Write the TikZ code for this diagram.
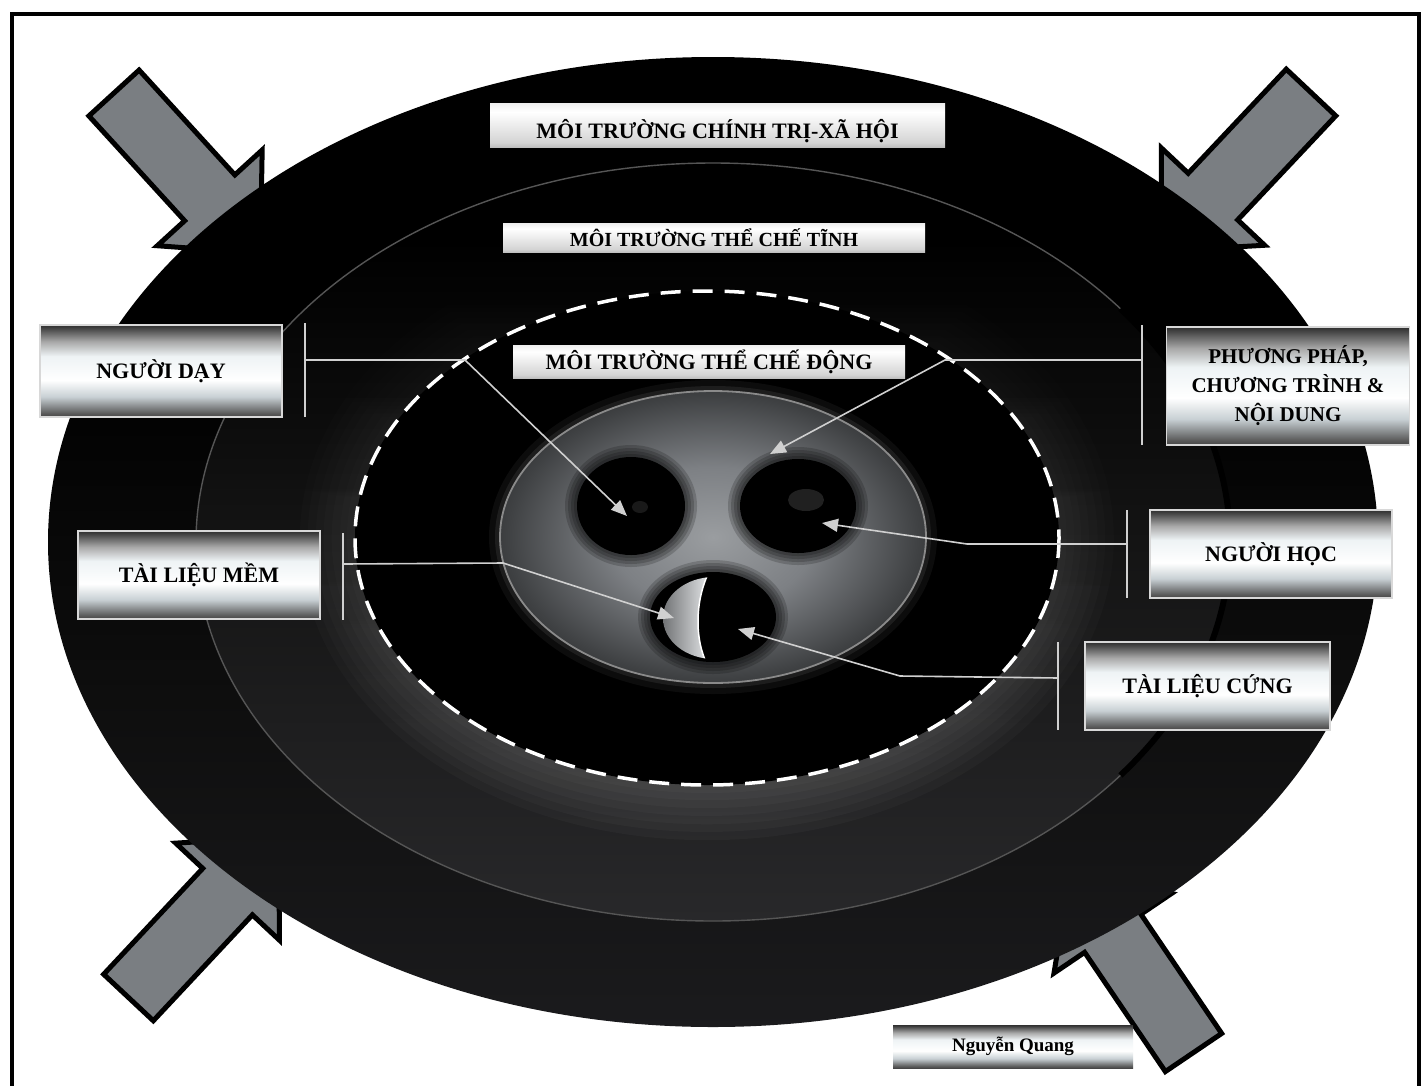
\documentclass[tikz,border=0pt]{standalone}
\usepackage{fontspec}
\setmainfont{Liberation Serif}
\usetikzlibrary{arrows.meta,shapes.geometric,fadings}
\definecolor{oA}{HTML}{2C2C30}
\definecolor{oB}{HTML}{202023}
\definecolor{oC}{HTML}{0E0E0E}
\definecolor{sA}{HTML}{333336}
\definecolor{sB}{HTML}{28282A}
\definecolor{sC}{HTML}{141414}
\definecolor{secedge}{HTML}{555555}
\definecolor{glowc}{HTML}{A0A0A0}
\definecolor{iA}{HTML}{9A9DA0}
\definecolor{iB}{HTML}{7D8084}
\definecolor{iC}{HTML}{404244}
\definecolor{iD}{HTML}{141414}
\definecolor{iE}{HTML}{262626}
\definecolor{iF}{HTML}{4A4A4A}
\definecolor{rimc}{HTML}{8A8A8A}
\definecolor{mA}{HTML}{5A5A5A}
\definecolor{mB}{HTML}{C8D0D4}
\definecolor{mC}{HTML}{EEF3F5}
\definecolor{mD}{HTML}{A8A8A8}
\definecolor{mE}{HTML}{3A3A3A}
\definecolor{bA}{HTML}{2A2A2A}
\definecolor{bB}{HTML}{8A8A8A}
\definecolor{bC}{HTML}{D4D4D4}
\definecolor{bD}{HTML}{D8D8D8}
\definecolor{bE}{HTML}{8C8C8C}
\definecolor{crA}{HTML}{5E6062}
\definecolor{crB}{HTML}{E4E6E8}
\definecolor{connc}{HTML}{D0D0D0}
\definecolor{boxedge}{HTML}{D8D8D8}
\definecolor{arrowgray}{HTML}{7A7E82}
\pgfdeclareverticalshading{outersh}{100bp}{color(0bp)=(oA); color(18bp)=(oB); color(42bp)=(oC); color(60bp)=(black); color(100bp)=(black)}
\pgfdeclareverticalshading{secsh}{100bp}{color(0bp)=(sA); color(25bp)=(sB); color(50bp)=(sC); color(70bp)=(black); color(100bp)=(black)}
\pgfdeclareradialshading{innersh}{\pgfpoint{0bp}{0bp}}{color(0bp)=(iA); color(12bp)=(iB); color(24bp)=(iC); color(34bp)=(iD); color(43bp)=(black); color(48bp)=(iE); color(50bp)=(iF)}
\pgfdeclareverticalshading{metal}{100bp}{color(0bp)=(black); color(18bp)=(black); color(27bp)=(mA); color(36bp)=(mB); color(45bp)=(white); color(58bp)=(mC); color(66bp)=(mD); color(74bp)=(mE); color(80bp)=(black); color(100bp)=(black)}
\pgfdeclareverticalshading{barsh}{100bp}{color(0bp)=(bA); color(12bp)=(bB); color(30bp)=(bC); color(65bp)=(white); color(88bp)=(bD); color(100bp)=(bE)}
\tikzfading[name=glowfade, top color=transparent!100, bottom color=transparent!0]
\newcommand\blockarrow[3]{%
  \begin{scope}[shift={#1}, rotate=#2]
    \filldraw[bigarrow] (0,-34) -- (#3,-34) -- (#3,-71) -- ({#3+75},0) -- (#3,71) -- (#3,34) -- (0,34) -- cycle;
  \end{scope}}
\begin{document}
\begin{tikzpicture}[x=1pt,y=-1pt,
  bigarrow/.style={fill=arrowgray, draw=black, line width=5pt, line join=miter},
  labelbox/.style={shade, shading=metal, draw=boxedge, line width=1.2pt, minimum width=242pt, align=center, font=\bfseries\fontsize{22}{29}\selectfont, text=black, inner sep=0pt},
  titlebar/.style={shade, shading=barsh, inner sep=0pt, text=black, font=\bfseries\fontsize{22}{24}\selectfont},
  hole/.style={ellipse, fill=black, inner sep=0pt},
  conn/.style={draw=connc, line width=1.6pt},
  connarrow/.style={conn, -{Triangle[length=16pt,width=13pt]}}]
\useasboundingbox (0,0) rectangle (1424,1085);
\fill[white] (0,0) rectangle (1424,1085);
\draw[line width=4pt] (12,14) rectangle (1419,1100);
% big arrows
\blockarrow{(114,93)}{-47.6}{142}
\blockarrow{(1311,92.5)}{-133.3}{143}
\blockarrow{(128.5,997.5)}{46.9}{145}
\blockarrow{(1193.5,1052.5)}{124.1}{144}
% outer ellipse
\shade[shading=outersh] (713,542) ellipse [x radius=665, y radius=485];
% second ellipse
\shade[shading=secsh] (713,542) ellipse [x radius=517, y radius=379];
\draw[secedge, line width=1.4pt] (713,542) ellipse [x radius=517, y radius=379];
\draw[black, line width=6pt] (713,542) ++(-38:517 and 379) arc[start angle=-38, end angle=38, x radius=517, y radius=379];
% glow around dashed ellipse
\foreach \w in {110,94,78,62,46,30,16} {
  \draw[glowc, line width=\w pt, opacity=0.05, path fading=glowfade] (707,538) ellipse [x radius=352, y radius=247];
}
\fill[black] (707,538) ellipse [x radius=352, y radius=247];
% inner ellipse
\foreach \w/\o in {22/0.08, 10/0.12} {
  \draw[glowc, line width=\w pt, opacity=\o] (713,537) ellipse [x radius=213, y radius=146];
}
\shade[shading=innersh] (713,537) ellipse [x radius=213, y radius=146];
\draw[rimc, line width=1.8pt] (713,537) ellipse [x radius=213, y radius=146];
% holes (soft edges)
\foreach \cx/\cy/\rx/\ry in {631/506/54/49, 798/506/58/47, 713/617/63/45} {
  \foreach \e in {12,9,6,3} {
    \fill[black, opacity=0.18] (\cx,\cy) ellipse [x radius=\rx+\e, y radius=\ry+\e];
  }
}
\node[hole, minimum width=108pt, minimum height=98pt] (holeL) at (631,506) {};
\node[hole, minimum width=116pt, minimum height=94pt] (holeR) at (798,506) {};
\node[hole, minimum width=126pt, minimum height=90pt] (holeB) at (713,617) {};
\fill[gray, opacity=0.25] (806,500) ellipse [x radius=18, y radius=11];
\fill[gray, opacity=0.2] (640,507) ellipse [x radius=8, y radius=6];
% crescent
\begin{scope}
  \clip (714,618) ellipse [x radius=51, y radius=41];
  \shade[left color=crA, right color=crB] (655,570) -- (709,572) .. controls (695,600) and (694,640) .. (708,666) -- (655,666) -- cycle;
  \draw[white, line width=1.5pt] (709,572) .. controls (695,600) and (694,640) .. (708,666);
\end{scope}
% dashed boundary
\draw[white, line width=3.5pt, dash pattern=on 20pt off 12pt] (707,538) ellipse [x radius=352, y radius=247];
% title bars
\node[titlebar, minimum width=455pt, minimum height=44pt] (envTop) at (717.5,125) {\raisebox{-6pt}[\height][\depth]{MÔI TRƯỜNG CHÍNH TRỊ-XÃ HỘI}};
\node[titlebar, minimum width=422pt, minimum height=29pt, font=\bfseries\fontsize{20}{24}\selectfont] (envTinh) at (714,237.5) {MÔI TRƯỜNG THỂ CHẾ TĨNH};
\node[titlebar, minimum width=392pt, minimum height=33pt] (envDong) at (709,361.5) {MÔI TRƯỜNG THỂ CHẾ ĐỘNG};
% connectors
\coordinate (dayT) at (305,323); \coordinate (dayBt) at (305,417);
\coordinate (dayM) at (305,360); \coordinate (dayK) at (465,360); \coordinate (dayTip) at (627,516);
\coordinate (ppT) at (1142,325); \coordinate (ppBt) at (1142,445);
\coordinate (ppM) at (1142,360); \coordinate (ppK) at (945,360); \coordinate (ppTip) at (770,454);
\coordinate (hocT) at (1127,510); \coordinate (hocBt) at (1127,598);
\coordinate (hocM) at (1127,544); \coordinate (hocK) at (967,544); \coordinate (hocTip) at (822,523);
\coordinate (cungT) at (1058,642); \coordinate (cungBt) at (1058,730);
\coordinate (cungM) at (1058,678); \coordinate (cungK) at (900,676); \coordinate (cungTip) at (738,629);
\coordinate (memT) at (343,533); \coordinate (memBt) at (343,620);
\coordinate (memM) at (343,564); \coordinate (memK) at (503,563); \coordinate (memTip) at (674,618);
\foreach \n in {day,pp,hoc,cung,mem} {
  \draw[conn] (\n T) -- (\n Bt);
  \draw[connarrow] (\n M) -- (\n K) -- (\n Tip);
}
% label boxes
\node[labelbox, minimum height=92pt] (lbDay) at (161,371) {NGƯỜI DẠY};
\node[labelbox, minimum height=88pt] (lbMem) at (199,575) {TÀI LIỆU MỀM};
\node[labelbox, minimum width=243pt, minimum height=118pt, font=\bfseries\fontsize{21}{29}\selectfont] (lbPP) at (1288,386) {PHƯƠNG PHÁP,\\CHƯƠNG TRÌNH \&\\NỘI DUNG};
\node[labelbox, minimum height=88pt] (lbHoc) at (1271,554) {NGƯỜI HỌC};
\node[labelbox, minimum width=245pt, minimum height=88pt] (lbCung) at (1207.5,686) {TÀI LIỆU CỨNG};
\node[labelbox, minimum width=240pt, minimum height=43pt, draw=none, font=\bfseries\fontsize{19}{22}\selectfont] (author) at (1013,1046.5) {Nguyễn Quang};
\end{tikzpicture}
\end{document}
